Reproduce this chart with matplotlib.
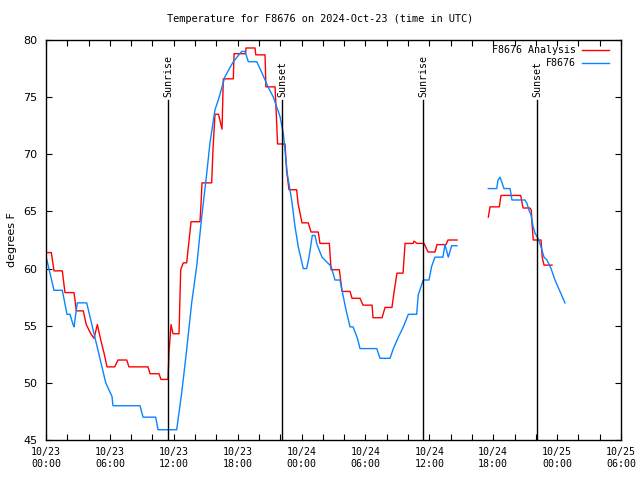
#!/usr/bin/env python3
# Temperature for F8676, gnuplot-style chart redone in matplotlib

import numpy as np
import matplotlib
matplotlib.use("Agg")
import matplotlib.pyplot as plt
from matplotlib.ticker import MultipleLocator

nan = np.nan

# hours since 2024-10-23 00:00 UTC
analysis_hours = [0.09, 0.5, 0.75, 1.53, 1.78, 2.63, 2.85, 3.5, 3.78, 4.2, 4.51, 4.82,
                  5.14, 5.45, 5.73, 6.45, 6.76, 7.58, 7.79, 9.58, 9.77, 10.61, 10.8,
                  11.46, 11.55, 11.74, 11.93, 12.49, 12.65, 12.89, 13.21, 13.62, 14.46,
                  14.56, 14.65, 15.56, 15.68, 15.87, 16.2, 16.53, 16.65, 17.59, 17.66,
                  18.75, 18.78, 19.63, 19.7, 20.57, 20.65, 21.51, 21.75, 22.45, 22.6,
                  22.82, 23.54, 23.67, 24.04, 24.63, 24.89, 25.57, 25.73, 26.61, 26.77,
                  27.55, 27.8, 28.55, 28.74, 29.49, 29.77, 30.62, 30.71, 31.56, 31.84,
                  32.49, 32.68, 32.96, 33.53, 33.72, 34.47, 34.56, 34.84, 35.5, 35.88,
                  36.53, 36.72, 37.57, 37.75, 38.6,
                  39.0,
                  41.54, 41.7, 42.57, 42.73, 44.58, 44.8, 45.45, 45.58, 45.64, 45.76,
                  46.49, 46.6, 46.77, 47.52]
analysis_temp = [61.4, 61.4, 59.8, 59.8, 57.9, 57.9, 56.3, 56.3, 55.1, 54.3, 53.9, 55.1,
                 53.75, 52.6, 51.4, 51.4, 52.0, 52.0, 51.4, 51.4, 50.8, 50.8, 50.3,
                 50.3, 52.7, 55.1, 54.3, 54.3, 59.9, 60.5, 60.5, 64.1, 64.1,
                 65.7, 67.5, 67.5, 70.4, 73.5, 73.5, 72.2, 76.6, 76.6, 78.8,
                 78.8, 79.3, 79.3, 78.7, 78.7, 75.9, 75.9, 70.9, 70.9, 68.5,
                 66.9, 66.9, 65.7, 64.0, 64.0, 63.2, 63.2, 62.2, 62.2, 59.9,
                 59.9, 58.0, 58.0, 57.4, 57.4, 56.8, 56.8, 55.7, 55.7, 56.6,
                 56.6, 57.9, 59.6, 59.6, 62.2, 62.2, 62.4, 62.2, 62.2, 61.45,
                 61.45, 62.1, 62.1, 62.5, 62.5,
                 nan,
                 64.5, 65.4, 65.4, 66.4, 66.4, 65.3, 65.3, 65.1, 64.0, 62.5,
                 62.5, 61.0, 60.3, 60.3]

obs_hours = [0.07, 0.75, 1.53, 1.97, 2.25, 2.54, 2.63, 2.94, 3.82, 5.61, 6.2, 6.29,
             8.83, 9.11, 10.3, 10.52, 12.27, 12.74, 13.21, 13.68, 14.15, 14.62, 15.09,
             15.4, 15.87, 16.18, 16.81, 17.59, 18.38, 18.69, 19.0, 19.79, 20.29, 20.85,
             21.35, 21.98, 22.29, 22.66, 23.07, 23.38, 23.69, 24.16, 24.48, 24.7, 25.01,
             25.26, 25.45, 25.92, 26.77, 27.14, 27.61, 27.8, 28.17, 28.55, 28.83, 29.21,
             29.49, 31.06, 31.37, 32.31, 32.62, 33.09, 33.56, 34.03, 34.81, 34.96, 35.43,
             35.97, 36.22, 36.53, 37.28, 37.47, 37.78, 38.1, 38.6,
             39.0,
             41.54, 42.33, 42.45, 42.64, 42.83, 43.01, 43.58, 43.76, 44.98, 45.17, 45.36,
             45.55, 45.74, 45.92, 46.21, 46.49, 46.77, 47.05, 47.43, 47.8, 48.27, 48.74]
obs_temp = [60.8, 58.1, 58.1, 56.0, 56.0, 55.1, 54.9, 57.0, 57.0, 50.0, 48.8, 48.0,
            48.0, 47.0, 47.0, 45.9, 45.9, 49.1, 52.9, 57.0, 60.2, 64.5, 68.3,
            71.0, 73.9, 74.75, 76.8, 78.1, 79.0, 79.0, 78.1, 78.1, 77.1, 75.9,
            75.0, 73.3, 71.8, 68.3, 66.0, 63.7, 61.9, 60.0, 60.0, 61.0, 62.9,
            62.9, 62.1, 61.0, 60.2, 59.0, 59.0, 58.1, 56.4, 54.9, 54.9, 54.0,
            53.0, 53.0, 52.15, 52.15, 53.0, 54.0, 54.9, 56.0, 56.0, 57.7, 59.0,
            59.0, 60.2, 61.0, 61.0, 62.1, 61.0, 62.0, 62.0,
            nan,
            67.0, 67.0, 67.75, 68.0, 67.5, 67.0, 67.0, 66.0, 66.0, 65.7, 65.1,
            64.7, 63.7, 63.1, 62.65, 61.9, 61.0, 60.75, 60.0, 59.0, 58.0, 57.0]

sun_labels = ["Sunrise", "Sunset", "Sunrise", "Sunset"]
sun_hours = [11.46, 22.16, 35.4, 46.1]

tick_hours = [0, 6, 12, 18, 24, 30, 36, 42, 48, 54]
tick_labels = ["10/23\n00:00", "10/23\n06:00", "10/23\n12:00", "10/23\n18:00",
               "10/24\n00:00", "10/24\n06:00", "10/24\n12:00", "10/24\n18:00",
               "10/25\n00:00", "10/25\n06:00"]

RED = "#ff0000"
BLUE = "#0a84ff"
MONO = "DejaVu Sans Mono"

fig = plt.figure(figsize=(6.4, 4.8), dpi=100)
ax = fig.add_axes([0.0719, 0.0833, 0.8984, 0.8334])

ax.plot(analysis_hours, analysis_temp, color=RED, lw=1.0)
ax.plot(obs_hours, obs_temp, color=BLUE, lw=1.0)

for lab, h in zip(sun_labels, sun_hours):
    ax.plot([h, h], [45, 74.75], color="black", lw=1.0)
    ax.text(h, 75.0, lab, rotation=90, ha="center", va="bottom",
            family=MONO, fontsize=7.2)

ax.set_xlim(0, 54)
ax.set_ylim(45, 80)
ax.set_xticks(tick_hours)
ax.set_xticklabels(tick_labels, family=MONO, fontsize=7.2)
ax.xaxis.set_minor_locator(MultipleLocator(2))
ax.yaxis.set_major_locator(MultipleLocator(5))
for t in ax.get_yticklabels():
    t.set_fontsize(8)
ax.tick_params(which="both", direction="in", top=True, right=True, length=4, width=0.8)
ax.tick_params(axis="y", pad=6)
ax.tick_params(axis="x", pad=5)
for s in ax.spines.values():
    s.set_linewidth(1.0)

ax.set_ylabel("degrees F", fontsize=8, labelpad=5)
fig.text(0.5, 0.96, "Temperature for F8676 on 2024-Oct-23 (time in UTC)",
         ha="center", va="center", family=MONO, fontsize=7.4)

# gnuplot-style key, text right-aligned with sample after it
key = [("F8676 Analysis", RED), ("F8676", BLUE)]
for i, (name, col) in enumerate(key):
    y = 0.975 - i * 0.033
    ax.text(0.922, y, name, transform=ax.transAxes, ha="right", va="center",
            family=MONO, fontsize=7.2)
    ax.plot([0.932, 0.98], [y, y], transform=ax.transAxes, color=col, lw=1.0)

fig.savefig("out.png", dpi=100)
